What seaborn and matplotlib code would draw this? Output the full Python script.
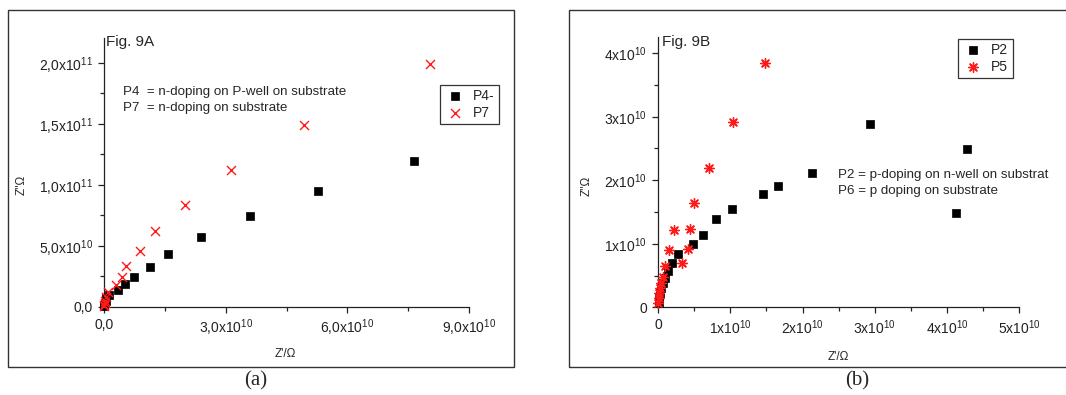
import numpy as np
import pandas as pd
import seaborn as sns
import matplotlib.pyplot as plt
from matplotlib.patches import Rectangle
from matplotlib.ticker import MultipleLocator, AutoMinorLocator, FuncFormatter

# data, values in units of 1e10 Ohm
p4_x = [0.005, 0.01, 0.02, 0.04, 0.06, 0.13, 0.353, 0.51, 0.732, 1.126, 1.585, 2.40, 3.60, 5.28, 7.64]
p4_y = [0.05, 0.15, 0.3, 0.5, 0.75, 0.95, 1.37, 1.84, 2.43, 3.25, 4.30, 5.71, 7.46, 9.46, 11.94]
p7_x = [0.003, 0.008, 0.015, 0.025, 0.05, 0.107, 0.296, 0.436, 0.55, 0.88, 1.25, 1.99, 3.14, 4.94, 8.05]
p7_y = [0.05, 0.15, 0.3, 0.5, 0.82, 1.23, 1.80, 2.46, 3.34, 4.57, 6.23, 8.34, 11.18, 14.9, 19.87]

p2_x = [0.01, 0.02, 0.03, 0.04, 0.065, 0.092, 0.138, 0.19, 0.272, 0.484, 0.627, 0.80, 1.03,
        1.457, 1.66, 2.125, 2.93, 4.28, 4.13]
p2_y = [0.06, 0.14, 0.22, 0.30, 0.378, 0.457, 0.57, 0.70, 0.84, 0.997, 1.14, 1.39, 1.55,
        1.78, 1.905, 2.11, 2.88, 2.49, 1.48]
p5_x = [0.005, 0.01, 0.02, 0.03, 0.04, 0.065, 0.092, 0.148, 0.226, 0.336, 0.42, 0.443, 0.498,
        0.705, 1.04, 1.484]
p5_y = [0.06, 0.15, 0.22, 0.30, 0.38, 0.47, 0.65, 0.90, 1.21, 0.69, 0.91, 1.23, 1.64,
        2.20, 2.91, 3.84]

scale = 1e10

sns.set_style('ticks')
plt.rcParams['font.family'] = ['Liberation Sans', 'DejaVu Sans']
plt.rcParams['mathtext.fontset'] = 'custom'
plt.rcParams['mathtext.rm'] = 'Liberation Sans'
plt.rcParams['mathtext.it'] = 'Liberation Sans'

fig = plt.figure(figsize=(10.66, 3.95), dpi=100)
W, H = 1066, 395


def px_axes(l, r, t, b):
    return fig.add_axes([l / W, 1 - b / H, (r - l) / W, (b - t) / H])


def sci_comma(exp):
    def f(v, pos):
        if v == 0:
            return '0,0'
        m = v / 10 ** exp
        return (r'%.1f' % m).replace('.', ',') + r'x10$^{%d}$' % exp
    return f


def sci_int(v, pos):
    if v == 0:
        return '0'
    m = v / 1e10
    return r'%dx10$^{10}$' % round(m)


def style_axes(ax):
    sns.despine(ax=ax)
    for s in ['left', 'bottom']:
        ax.spines[s].set_color('#222222')
        ax.spines[s].set_linewidth(0.9)
    ax.tick_params(which='major', direction='out', length=4.5, width=0.9, labelsize=10, colors='#222222')
    ax.tick_params(which='minor', direction='out', length=3, width=0.9, colors='#222222')
    ax.xaxis.set_minor_locator(AutoMinorLocator(2))
    ax.yaxis.set_minor_locator(AutoMinorLocator(2))
    ax.set_facecolor('white')


# ---------- panel (a) ----------
ax1 = px_axes(104, 469, 37.7, 306.7)
df_a = pd.DataFrame({'x': np.array(p4_x) * scale, 'y': np.array(p4_y) * scale})
df_b = pd.DataFrame({'x': np.array(p7_x) * scale, 'y': np.array(p7_y) * scale})
sns.scatterplot(data=df_a, x='x', y='y', ax=ax1, marker='s', color='black', s=32,
                edgecolor='black', linewidth=0.5, label='P4-', clip_on=False, zorder=3)
sns.scatterplot(data=df_b, x='x', y='y', ax=ax1, marker='x', color='#ff1a1a', s=42,
                linewidth=1.0, label='P7', clip_on=False, zorder=4)
ax1.set_xlim(0, 9e10)
ax1.set_ylim(0, 2.205e11)
ax1.xaxis.set_major_locator(MultipleLocator(3e10))
ax1.yaxis.set_major_locator(MultipleLocator(5e10))
ax1.xaxis.set_major_formatter(FuncFormatter(sci_comma(10)))
ax1.yaxis.set_major_formatter(FuncFormatter(lambda v, p: '0,0' if v == 0 else
                                            (sci_comma(11)(v, p) if v >= 1e11 else sci_comma(10)(v, p))))
style_axes(ax1)
ax1.set_xlabel("Z'/\u03a9", fontsize=8.5)
ax1.set_ylabel("Z''\u03a9", fontsize=8.5)
ax1.xaxis.set_label_coords(0.496, -0.1535)
ax1.yaxis.set_label_coords(-0.208, 0.452)
ax1.text(0.005, 1.01, 'Fig. 9A', transform=ax1.transAxes, fontsize=11, va='top', ha='left')
ax1.text(123 / W, 1 - 91.5 / H, 'P4  = n-doping on P-well on substrate', transform=fig.transFigure,
         fontsize=9.6, va='center')
ax1.text(123 / W, 1 - 107.5 / H, 'P7  = n-doping on substrate', transform=fig.transFigure,
         fontsize=9.6, va='center')
leg1 = ax1.legend(loc='upper left', bbox_to_anchor=(433 / W, 1 - 78 / H), bbox_transform=fig.transFigure,
                  fontsize=10, frameon=True, fancybox=False, edgecolor='#333333', framealpha=1,
                  handletextpad=0.6, borderpad=0.3, labelspacing=0.2, handlelength=1.5)
leg1.get_frame().set_linewidth(0.9)

# ---------- panel (b) ----------
ax2 = px_axes(658, 1019.3, 37.3, 307.3)
df_c = pd.DataFrame({'x': np.array(p2_x) * scale, 'y': np.array(p2_y) * scale})
df_d = pd.DataFrame({'x': np.array(p5_x) * scale, 'y': np.array(p5_y) * scale})
sns.scatterplot(data=df_c, x='x', y='y', ax=ax2, marker='s', color='black', s=32,
                edgecolor='black', linewidth=0.5, label='P2', clip_on=False, zorder=3)
sns.scatterplot(data=df_d, x='x', y='y', ax=ax2, marker=(8, 2, 0), color='#ff1a1a', s=48,
                linewidth=1.0, edgecolor='#ff1a1a', label='P5', clip_on=False, zorder=4)
ax2.set_xlim(0, 5e10)
ax2.set_ylim(0, 4.25e10)
ax2.xaxis.set_major_locator(MultipleLocator(1e10))
ax2.yaxis.set_major_locator(MultipleLocator(1e10))
ax2.xaxis.set_major_formatter(FuncFormatter(sci_int))
ax2.yaxis.set_major_formatter(FuncFormatter(sci_int))
style_axes(ax2)
ax2.set_xlabel("Z'/\u03a9", fontsize=8.5)
ax2.set_ylabel("Z''\u03a9", fontsize=8.5)
ax2.xaxis.set_label_coords(0.498, -0.162)
ax2.yaxis.set_label_coords(-0.18, 0.449)
ax2.text(0.012, 1.01, 'Fig. 9B', transform=ax2.transAxes, fontsize=11, va='top', ha='left')
ax2.text(838 / W, 1 - 175.5 / H, 'P2 = p-doping on n-well on substrat', transform=fig.transFigure,
         fontsize=9.6, va='center')
ax2.text(838 / W, 1 - 191 / H, 'P6 = p doping on substrate', transform=fig.transFigure,
         fontsize=9.6, va='center')
leg2 = ax2.legend(loc='upper left', bbox_to_anchor=(951 / W, 1 - 32 / H), bbox_transform=fig.transFigure,
                  fontsize=10, frameon=True, fancybox=False, edgecolor='#333333', framealpha=1,
                  handletextpad=0.6, borderpad=0.3, labelspacing=0.2, handlelength=1.5)
leg2.get_frame().set_linewidth(0.9)

# outer frames and captions
for (l, r) in [(8, 514), (569, 1075)]:
    fig.patches.append(Rectangle((l / W, 1 - 367 / H), (r - l) / W, (367 - 10) / H,
                                 transform=fig.transFigure, fill=False, edgecolor='#333333',
                                 linewidth=1.0, zorder=0))
fig.text(256 / W, 1 - 381 / H, '(a)', family='Liberation Serif', fontsize=15, ha='center', va='center')
fig.text(857 / W, 1 - 381 / H, '(b)', family='Liberation Serif', fontsize=15, ha='center', va='center')

fig.savefig('out.png', dpi=100, facecolor='white')
